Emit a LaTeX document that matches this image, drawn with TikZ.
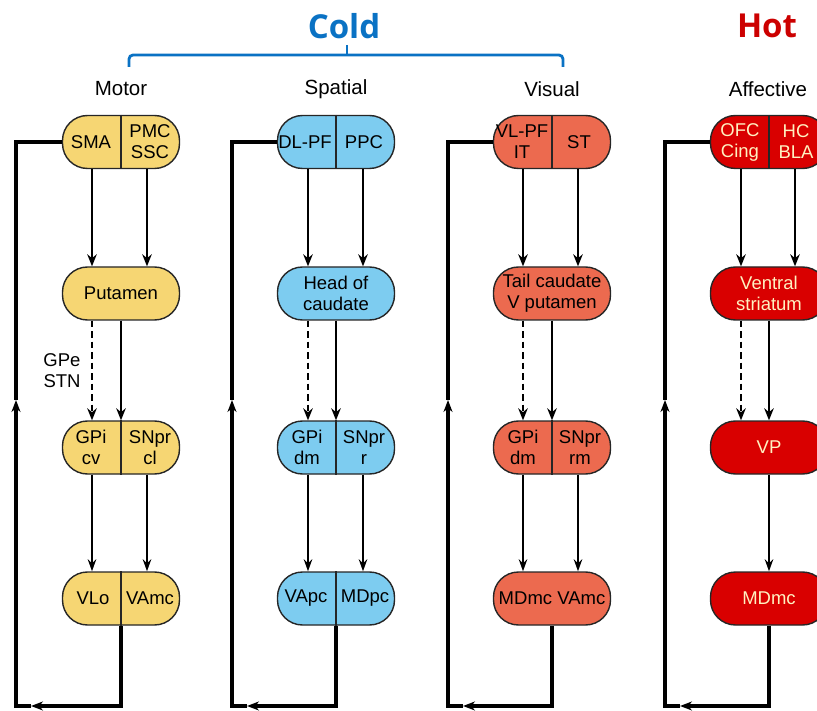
\documentclass[tikz,border=0pt]{standalone}
\usepackage{fontspec}
\setmainfont{Liberation Sans}
\newfontfamily\headfont{Open Sans}
\usetikzlibrary{arrows.meta}

\definecolor{motorfill}{HTML}{F6D673}
\definecolor{spatialfill}{HTML}{7DCCF0}
\definecolor{visualfill}{HTML}{EC6A4F}
\definecolor{affectfill}{HTML}{D90000}
\definecolor{affecttext}{HTML}{FFF1C1}
\definecolor{coldblue}{HTML}{0A72C4}
\definecolor{hotred}{HTML}{CC0000}
\definecolor{edge}{HTML}{262626}

\newcommand{\boxfont}{\fontsize{18.5}{21}\selectfont}
\newcommand{\labfont}{\fontsize{20.5}{24}\selectfont}

% feedback loop from thalamic box back to cortical box
% #1 prefix, #2 loop x, #3 column centre x
\newcommand{\feedback}[3]{%
  \coordinate (#1br) at (#3,706);
  \coordinate (#1ba) at (#2+15,706);
  \coordinate (#1bl) at (#2,706);
  \coordinate (#1up) at (#2,400);
  \draw[loopline,-{Stealth[length=12pt,width=9pt]}] (#1th.south) -- (#1br) -- (#1ba);
  \draw[loopline,-{Stealth[length=12pt,width=9pt]}] (#1ba) -- (#1bl) -- (#1up);
  \draw[loopline] (#1up) |- (#1cx.west);
}

\tikzset{
  stage/.style={draw=edge, line width=1.4pt, rounded corners=25pt,
    minimum width=117pt, minimum height=53pt, inner sep=0pt},
  txt/.style={font=\boxfont, align=center, inner sep=0pt},
  lab/.style={font=\labfont, inner sep=0pt},
  divider/.style={draw=edge, line width=1.4pt},
  loopline/.style={line width=3.6pt},
  feed/.style={line width=2.8pt, -{Stealth[length=12pt,width=9.5pt]}},
  relay/.style={line width=1.7pt, -{Stealth[length=12pt,width=8.5pt]}},
  indirect/.style={line width=2.8pt, dash pattern=on 6.5pt off 4pt, -{Stealth[length=12pt,width=9.5pt]}},
}

\begin{document}
\begin{tikzpicture}[x=1pt, y=-1pt]
\useasboundingbox (0,0) rectangle (817,711);
\clip (0,0) rectangle (817,711);

% ---------- headings ----------
\node[font=\headfont\bfseries\fontsize{33}{36}\selectfont, text=coldblue] (cold) at (344,26) {Cold};
\node[font=\headfont\bfseries\fontsize{33}{36}\selectfont, text=hotred] (hot) at (767,26) {Hot};
\coordinate (brL) at (129,67);
\coordinate (brR) at (563,67);
\coordinate (brM) at (347,45);
\draw[coldblue, line width=2.8pt, rounded corners=4pt] (brL) -- (129,55) -- (563,55) -- (brR);
\draw[coldblue, line width=2.8pt] (brM) -- (347,55);

\node[lab] (lmotor) at (121,89) {Motor};
\node[lab] (lspatial) at (336,89) {Spatial};
\node[lab] (lvisual) at (552,89) {Visual};
\node[lab] (laffect) at (768,89) {Affective};

% ---------- Motor loop ----------
\node[stage, fill=motorfill] (mcx) at (121,142) {};
\draw[divider] (mcx.north) -- (mcx.south);
\node[txt] (mcxa) at (91,142) {SMA};
\node[txt] (mcxb) at (150,142) {PMC\\SSC};

\node[stage, fill=motorfill] (mst) at (121,293.5) {};
\node[txt] (msta) at (mst) {Putamen};

\node[stage, fill=motorfill] (mgp) at (121,447.5) {};
\draw[divider] (mgp.north) -- (mgp.south);
\node[txt] (mgpa) at (91,447.5) {GPi\\cv};
\node[txt] (mgpb) at (150,447.5) {SNpr\\cl};

\node[stage, fill=motorfill] (mth) at (121,598.5) {};
\draw[divider] (mth.north) -- (mth.south);
\node[txt] (mtha) at (93,598.5) {VLo};
\node[txt] (mthb) at (150,598.5) {VAmc};

\node[txt] (gpe) at (62,371) {GPe\\STN};

\draw[feed] ([xshift=-29pt]mcx.south) -- ([xshift=-29pt]mst.north);
\draw[feed] ([xshift=26pt]mcx.south) -- ([xshift=26pt]mst.north);
\draw[indirect] ([xshift=-29pt]mst.south) -- ([xshift=-29pt]mgp.north);
\draw[feed] (mst.south) -- (mgp.north);
\draw[relay] ([xshift=-29pt]mgp.south) -- ([xshift=-29pt]mth.north);
\draw[relay] ([xshift=26pt]mgp.south) -- ([xshift=26pt]mth.north);
\feedback{m}{16}{121}

% ---------- Spatial loop ----------
\node[stage, fill=spatialfill] (scx) at (336,142) {};
\draw[divider] (scx.north) -- (scx.south);
\node[txt] (scxa) at (305,142) {DL-PF};
\node[txt] (scxb) at (364,142) {PPC};

\node[stage, fill=spatialfill] (sst) at (336,293.5) {};
\node[txt] (ssta) at (sst) {Head of\\caudate};

\node[stage, fill=spatialfill] (sgp) at (336,447.5) {};
\draw[divider] (sgp.north) -- (sgp.south);
\node[txt] (sgpa) at (307,447.5) {GPi\\dm};
\node[txt] (sgpb) at (364,447.5) {SNpr\\r};

\node[stage, fill=spatialfill] (sth) at (336,598.5) {};
\draw[divider] (sth.north) -- (sth.south);
\node[txt] (stha) at (306,598.5) {VApc};
\node[txt] (sthb) at (365,598.5) {MDpc};

\draw[feed] ([xshift=-28pt]scx.south) -- ([xshift=-28pt]sst.north);
\draw[feed] ([xshift=27pt]scx.south) -- ([xshift=27pt]sst.north);
\draw[indirect] ([xshift=-28pt]sst.south) -- ([xshift=-28pt]sgp.north);
\draw[feed] (sst.south) -- (sgp.north);
\draw[relay] ([xshift=-28pt]sgp.south) -- ([xshift=-28pt]sth.north);
\draw[relay] ([xshift=27pt]sgp.south) -- ([xshift=27pt]sth.north);
\feedback{s}{232}{336}

% ---------- Visual loop ----------
\node[stage, fill=visualfill] (vcx) at (552,142) {};
\draw[divider] (vcx.north) -- (vcx.south);
\node[txt] (vcxa) at (522,142) {VL-PF\\IT};
\node[txt] (vcxb) at (579,142) {ST};

\node[stage, fill=visualfill] (vst) at (552,293.5) {};
\node[txt] (vsta) at (vst) {Tail caudate\\V putamen};

\node[stage, fill=visualfill] (vgp) at (552,447.5) {};
\draw[divider] (vgp.north) -- (vgp.south);
\node[txt] (vgpa) at (523,447.5) {GPi\\dm};
\node[txt] (vgpb) at (580,447.5) {SNpr\\rm};

\node[stage, fill=visualfill] (vth) at (552,598.5) {};
\node[txt] (vtha) at (vth) {MDmc VAmc};

\draw[feed] ([xshift=-29pt]vcx.south) -- ([xshift=-29pt]vst.north);
\draw[feed] ([xshift=26pt]vcx.south) -- ([xshift=26pt]vst.north);
\draw[indirect] ([xshift=-29pt]vst.south) -- ([xshift=-29pt]vgp.north);
\draw[feed] (vst.south) -- (vgp.north);
\draw[relay] ([xshift=-29pt]vgp.south) -- ([xshift=-29pt]vth.north);
\draw[relay] ([xshift=26pt]vgp.south) -- ([xshift=26pt]vth.north);
\feedback{v}{448}{552}

% ---------- Affective loop ----------
\node[stage, fill=affectfill] (acx) at (769,142) {};
\draw[divider] (acx.north) -- (acx.south);
\node[txt, text=affecttext] (acxa) at (740,142) {OFC\\Cing};
\node[txt, text=affecttext] (acxb) at (796,142) {HC\\BLA};

\node[stage, fill=affectfill] (ast) at (769,293.5) {};
\node[txt, text=affecttext] (asta) at (ast) {Ventral\\striatum};

\node[stage, fill=affectfill] (agp) at (769,447.5) {};
\node[txt, text=affecttext] (agpa) at (agp) {VP};

\node[stage, fill=affectfill] (ath) at (769,598.5) {};
\node[txt, text=affecttext] (atha) at (ath) {MDmc};

\draw[feed] ([xshift=-28pt]acx.south) -- ([xshift=-28pt]ast.north);
\draw[feed] ([xshift=26pt]acx.south) -- ([xshift=26pt]ast.north);
\draw[indirect] ([xshift=-28pt]ast.south) -- ([xshift=-28pt]agp.north);
\draw[feed] (ast.south) -- (agp.north);
\draw[relay] (agp.south) -- (ath.north);
\feedback{a}{665}{769}

\end{tikzpicture}
\end{document}
